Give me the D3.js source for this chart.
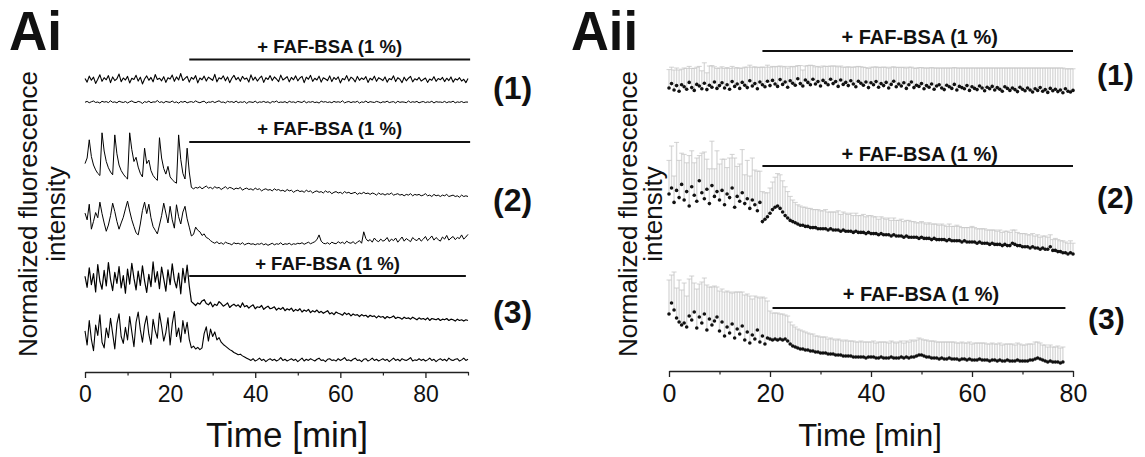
<!DOCTYPE html>
<html>
<head>
<meta charset="utf-8">
<script src="https://cdn.jsdelivr.net/npm/d3@7"></script>
<style>
  html, body { margin: 0; padding: 0; background: #fff; }
  svg { display: block; font-family: "Liberation Sans", Arial, Helvetica, sans-serif; }
</style>
</head>
<body>
<svg id="fig" width="1145" height="457"></svg>
<script>
// ---------------- data ----------------
// Ai: single-cell traces, sampled every 0.5 min (0–90 min), intensity as % of trace range
const leftSampleMin = 0.5;
const leftTickMajor = [0, 20, 40, 60, 80];
const leftTickMinor = [10, 30, 50, 70, 90];
const leftTreatStart = [24.5, 24.5, 24.5];
const leftTreatEnd = [90.5, 90.5, 89.5];

const cell1a = [52,38,61,45,57,33,49,66,41,55,47,63,36,58,44,51,69,40,54,46,
60,35,53,48,64,42,57,31,50,62,45,56,39,67,48,53,43,59,37,55,
50,65,41,58,46,71,44,52,60,38,56,49,63,35,54,47,61,42,57,51,
45,68,39,55,50,62,43,58,36,53,64,47,56,41,60,49,54,38,66,45,
57,42,53,61,37,55,48,63,44,58,50,40,65,46,52,59,39,56,47,62,
43,54,60,36,57,49,64,41,53,46,61,38,55,50,44,62,40,56,48,58,
35,52,47,63,42,57,51,39,60,45,54,48,59,37,53,46,61,41,55,50,
44,58,38,52,47,62,40,55,49,36,57,43,53,60,39,51,46,56,42,48,
54,37,50,45,59,41,52,47,56,40,53,44,58,38,51,46,55,42,49,36,52];

const cell1b = [48,55,44,52,58,46,50,41,56,49,53,45,60,47,51,43,57,50,46,54,
42,52,59,48,45,55,50,38,53,47,57,44,51,49,62,46,52,43,55,50,
47,58,45,51,40,54,48,56,43,50,53,46,59,49,44,52,57,41,50,48,
55,45,53,60,47,50,42,56,49,53,45,58,44,51,47,54,39,52,50,46,
57,43,51,48,55,46,52,40,54,49,58,45,50,47,53,42,56,48,51,44,
55,50,46,59,43,52,48,54,45,50,41,57,49,53,46,51,44,55,48,52,
47,60,43,50,54,45,52,48,56,41,51,47,58,44,53,49,46,55,50,43,
52,48,57,45,50,53,42,56,47,51,49,44,58,46,52,48,55,43,50,54,
45,51,47,56,42,53,49,50,46,55,44,52,48,57,43,51,47,54,45,50,49];

const cell2a = [52,60,86,62,50,43,38,35,96,70,55,46,40,36,93,66,50,42,37,33,
30,96,72,55,61,47,38,33,74,52,57,42,35,31,28,89,60,45,37,48,
33,29,26,24,93,58,38,30,74,40,18,
16,18,17,19,16,18,20,17,18,16,19,17,18,15,17,19,16,18,17,15,
17,16,18,14,16,17,15,16,14,17,15,16,13,15,16,14,15,13,16,14,
15,13,14,12,15,13,14,11,13,14,12,13,11,14,12,13,10,12,13,11,
12,10,13,11,12,9,11,12,10,11,9,12,10,11,9,10,11,8,10,9,
11,9,10,8,10,9,7,10,8,9,7,9,8,10,7,8,9,7,8,6,
8,7,9,6,8,7,8,6,7,9,6,7,5,8,6,7,5,7,6,8,
5,6,7,5,6,4,7,5,6,5];

const cell2b = [71,58,88,40,55,72,62,92,70,52,36,48,66,90,74,55,40,52,63,79,
94,75,58,45,33,29,50,76,92,70,88,62,45,38,31,48,66,90,71,52,
84,58,42,87,64,50,73,84,60,44,27,30,44,38,35,28,31,24,22,18,15,
13,16,12,14,11,15,13,12,10,14,12,13,11,14,10,12,13,11,12,10,
12,11,13,10,12,9,11,13,10,12,11,14,10,12,11,13,10,12,11,13,
12,14,11,13,15,12,14,16,20,29,17,13,12,14,11,15,13,12,16,13,
15,12,17,14,13,16,12,15,18,13,35,22,17,20,15,23,18,16,21,17,
19,24,16,21,18,23,15,20,25,17,22,19,16,24,20,18,23,17,21,26,
18,22,27,19,24,20,17,25,21,28,19,23,26,20,24,22,29,21,25,30];

const cell3a = [75,58,88,62,79,51,93,67,55,84,60,96,70,53,81,64,90,57,76,49,
86,63,95,72,54,83,61,91,68,50,78,59,97,66,82,56,89,71,52,85,
62,94,69,57,80,48,87,65,92,60,36,
33,30,34,32,37,39,33,31,35,28,32,30,36,33,29,31,34,27,30,32,
29,31,27,34,28,30,26,29,31,25,28,27,30,24,27,29,25,26,28,23,
26,24,27,22,25,23,26,21,24,22,25,20,23,21,24,19,22,20,23,19,
21,18,20,22,17,19,16,20,18,17,15,19,16,18,14,17,15,16,13,16,
14,15,12,15,13,14,11,14,12,13,10,13,11,12,14,10,12,11,9,12,
10,11,9,12,10,8,11,9,10,8,11,7,10,9,8,10,7,9,8,10,
7,9,8,6,9,7,8,6,8,7];

const cell3b = [60,35,78,45,25,70,52,88,40,30,65,48,82,55,28,72,90,50,38,66,
44,85,58,32,75,93,62,40,70,86,54,36,80,60,47,91,68,42,57,83,
35,72,94,50,65,40,78,55,75,45,
30,33,28,31,27,30,55,67,42,63,50,58,44,48,40,36,33,30,27,25,
22,20,18,19,16,14,12,
10,8,11,7,9,12,8,10,6,9,11,8,10,7,9,13,8,10,7,9,
11,8,10,6,9,12,7,10,8,11,9,7,10,12,8,9,6,10,11,8,
9,7,11,8,10,13,8,9,7,10,12,8,9,6,10,11,7,9,12,8,
10,7,9,11,8,10,6,9,12,8,10,7,11,9,8,10,13,7,9,8,
11,8,10,7,9,12,8,10,6,9,11,8,10,7,12,9,8,10,11,7,
9,12,8,10];

// Aii: mean of all cells (dots) and upper SEM (grey bars), sampled every 0.5 min
const rightSampleMin = 0.5;
const rightTickMajor = [0, 20, 40, 60, 80];
const rightTickMinor = [10, 30, 50, 70];
const rightTreatStart = [18.5, 18.5, 20.5];
const rightTreatEnd = [80, 80, 78.5];

const mean1 = [30,41,25,36,22,38,33,27,44,31,24,39,35,28,42,26,37,32,45,29,
36,43,30,38,27,46,34,40,29,44,37,31,48,35,41,28,45,38,33,47,
36,49,40,34,51,39,45,32,48,42,37,53,41,35,50,44,38,52,40,46,
35,49,43,38,52,41,46,34,50,39,44,36,48,40,33,47,42,37,45,31,
43,38,46,32,41,36,44,30,39,47,33,40,35,43,29,38,45,31,37,34,
41,28,36,32,40,27,35,38,30,26,37,33,29,39,25,34,31,28,36,24,
33,29,26,35,30,23,32,28,34,25,31,27,22,33,29,24,30,26,21,32,
27,23,30,25,20,28,24,31,22,26,19,29,23,27,21,25,18,28,22,20,24];

const sem1 = [46,41,50,44,53,39,47,52,40,48,55,43,49,45,51,42,48,54,38,50,
44,40,49,43,52,38,46,41,50,36,45,51,39,47,42,53,37,44,49,40,
46,35,43,50,34,44,39,48,36,41,47,33,45,40,35,42,49,34,43,38,
47,36,41,46,33,44,39,49,35,43,38,47,34,42,50,37,41,45,36,48,
39,44,37,49,41,46,38,50,43,36,48,42,46,39,51,44,37,49,42,47,
40,52,44,48,41,53,45,42,50,54,43,47,51,42,55,46,49,52,44,56,
47,51,54,45,50,57,48,52,46,55,49,53,58,47,51,56,50,54,59,48,
53,57,50,55,60,52,56,49,58,54,61,51,57,53,59,55,62,50,56,58,54];

const mean2 = [55,60,48,58,52,63,50,57,45,61,54,49,66,56,51,59,47,62,53,57,
50,58,46,55,52,60,44,53,49,56,47,51,43,50,46,41,48,
32,34,36,39,42,44,45,43,40,37,35,33,32,31,
30,29,29,28,28,27,27,27,26,26,
26,26,25,26,25,25,25,24,25,24,24,24,23,24,23,23,23,22,23,22,
22,22,21,22,21,21,21,20,21,20,20,20,19,20,19,19,19,19,18,19,
18,18,18,17,18,17,17,17,17,16,17,16,16,16,16,15,16,15,15,15,
15,14,15,14,14,14,13,14,13,13,13,12,13,12,12,14,13,12,12,11,
11,11,10,11,10,10,9,10,9,9,11,8,8,7,7,6,6,5,6,5];

const sem2 = [28,35,22,40,31,26,38,24,42,30,27,36,21,33,39,25,29,37,23,34,
30,26,38,22,33,28,41,25,31,36,24,32,27,35,29,33,26,
25,22,20,21,23,25,27,28,26,24,22,20,18,17,
16,16,15,16,15,16,15,15,16,15,
15,16,15,14,15,15,16,14,15,15,14,15,14,15,14,14,15,14,14,15,
14,14,13,14,14,13,14,13,14,13,13,14,13,13,14,13,13,12,13,13,
13,12,13,13,12,13,12,13,12,12,13,12,12,13,12,12,11,12,12,13,
12,12,11,12,12,11,12,11,12,11,12,11,11,12,11,11,12,11,10,11,
11,10,11,11,10,11,10,10,11,10,10,9,10,10,9,10,9,9,10,9];

const mean3 = [66,77,70,62,58,55,57,53,64,60,68,52,63,57,66,50,61,55,59,63,
49,58,44,53,47,56,42,51,46,54,40,48,37,45,41,50,38,44,36,42,
41,40,41,40,41,40,41,39,36,34,33,
32,31,31,30,30,29,29,28,28,27,
27,27,26,26,26,25,25,25,24,24,24,24,23,23,23,23,23,22,23,23,
23,22,22,23,22,22,22,23,22,22,22,23,22,23,22,23,23,24,25,25,
24,23,23,22,22,22,21,22,21,21,22,21,21,21,20,21,21,20,21,20,
20,20,21,20,20,20,19,20,20,19,20,19,19,20,19,19,19,20,19,19,
19,19,20,20,21,22,21,20,19,18,19,18,18,18,17,18];

const sem3 = [34,28,38,30,42,35,40,31,37,44,29,39,33,41,36,45,32,38,35,30,
40,33,44,36,41,31,46,37,42,34,45,38,47,36,43,33,44,39,46,37,
28,27,26,27,25,26,24,25,22,21,20,
19,19,18,18,17,17,17,16,16,16,
16,16,15,16,15,15,16,15,15,16,15,15,16,15,15,16,15,16,15,15,
16,15,16,15,16,16,15,16,16,15,16,16,15,16,16,17,16,16,17,16,
16,17,16,17,17,16,17,16,17,17,16,17,17,16,17,17,16,17,17,16,
17,17,16,17,17,16,17,17,16,17,17,16,17,16,17,17,16,17,17,16,
16,17,16,16,17,16,16,15,16,15,16,15,15,16,15,15];

const treatLabel = "+ FAF-BSA (1 %)";
const rowLabels = ["(1)", "(2)", "(3)"];

// ---------------- drawing ----------------
const svg = d3.select("#fig");
const ink = "#111";

const xL = d3.scaleLinear().domain([0, 90]).range([85, 468]);
const xR = d3.scaleLinear().domain([0, 80]).range([669, 1073]);

// vertical band for each trace (value 0 -> bottom, 100 -> top)
const leftTraces = [
  { v: cell1a, bottom: 92, top: 66, w: 1.1 },
  { v: cell1b, bottom: 108, top: 96, w: 1.0 },
  { v: cell2a, bottom: 200, top: 130, w: 1.0 },
  { v: cell2b, bottom: 250, top: 198, w: 1.0 },
  { v: cell3a, bottom: 325, top: 260, w: 1.2 },
  { v: cell3b, bottom: 365, top: 308, w: 1.1 }
];

const gL = svg.append("g");
leftTraces.forEach(tr => {
  const y = d3.scaleLinear().domain([0, 100]).range([tr.bottom, tr.top]);
  const line = d3.line().x((d, i) => xL(i * leftSampleMin)).y(d => y(d));
  gL.append("path").datum(tr.v)
    .attr("d", line).attr("fill", "none")
    .attr("stroke", "#000").attr("stroke-width", tr.w).attr("stroke-linejoin", "round");
});

// treatment bars, left
const leftBarY = [59.5, 142, 276];
const leftBarTextY = [53, 135, 270];
leftBarY.forEach((yy, k) => {
  const x0 = xL(leftTreatStart[k]), x1 = xL(leftTreatEnd[k]);
  gL.append("line").attr("x1", x0).attr("x2", x1).attr("y1", yy).attr("y2", yy)
    .attr("stroke", ink).attr("stroke-width", 2);
  gL.append("text").attr("x", (x0 + x1) / 2).attr("y", leftBarTextY[k])
    .attr("text-anchor", "middle").attr("font-size", 18.5).attr("font-weight", 700)
    .attr("fill", ink).text(treatLabel);
});

// row labels, left
[99, 211, 323].forEach((yy, k) => {
  gL.append("text").attr("x", 493).attr("y", yy).attr("font-size", 32)
    .attr("font-weight", 700).attr("fill", ink).text(rowLabels[k]);
});

// Right panel series bands
const rightSeries = [
  { m: mean1, e: sem1, bottom: 100, top: 60 },
  { m: mean2, e: sem2, bottom: 260, top: 140 },
  { m: mean3, e: sem3, bottom: 380, top: 280 }
];
const gR = svg.append("g");
rightSeries.forEach(s => {
  const y = d3.scaleLinear().domain([0, 100]).range([s.bottom, s.top]);
  const pts = s.m.map((v, i) => ({ t: i * rightSampleMin, v, e: s.e[i] }));
  const eb = gR.append("g");
  eb.selectAll("line.bar").data(pts).join("line").attr("class", "bar")
    .attr("x1", d => xR(d.t)).attr("x2", d => xR(d.t))
    .attr("y1", d => y(d.v)).attr("y2", d => y(d.v + d.e))
    .attr("stroke", "#dadada").attr("stroke-width", 1.4);
  eb.selectAll("line.cap").data(pts).join("line").attr("class", "cap")
    .attr("x1", d => xR(d.t) - 2.5).attr("x2", d => xR(d.t) + 2.5)
    .attr("y1", d => y(d.v + d.e)).attr("y2", d => y(d.v + d.e))
    .attr("stroke", "#c6c6c6").attr("stroke-width", 0.8);
  gR.append("g").selectAll("circle").data(pts).join("circle")
    .attr("cx", d => xR(d.t)).attr("cy", d => y(d.v)).attr("r", 1.8)
    .attr("fill", ink);
});

const rightBarY = [51, 166, 308];
const rightBarTextY = [44, 161, 301];
rightBarY.forEach((yy, k) => {
  const x0 = xR(rightTreatStart[k]), x1 = xR(rightTreatEnd[k]);
  gR.append("line").attr("x1", x0).attr("x2", x1).attr("y1", yy).attr("y2", yy)
    .attr("stroke", ink).attr("stroke-width", 2);
  gR.append("text").attr("x", (x0 + x1) / 2 + 2).attr("y", rightBarTextY[k])
    .attr("text-anchor", "middle").attr("font-size", 20).attr("font-weight", 700)
    .attr("fill", ink).text(treatLabel);
});
[[1097, 85], [1097, 208], [1088, 329]].forEach((p, k) => {
  gR.append("text").attr("x", p[0]).attr("y", p[1]).attr("font-size", 30)
    .attr("font-weight", 700).attr("fill", ink).text(rowLabels[k]);
});

// ---------------- axes ----------------
function timeAxis(x, y0, majors, minors, fontSize, labelBaseline, title, titleX, titleY, titleSize) {
  const g = svg.append("g").attr("transform", `translate(0,${y0})`);
  g.call(d3.axisBottom(x).tickValues(majors).tickSize(6).tickSizeOuter(0).tickFormat(d3.format("d")));
  g.select(".domain").attr("stroke", "#222").attr("stroke-width", 1.3);
  g.selectAll(".tick line").attr("stroke", "#222").attr("stroke-width", 1.3);
  g.selectAll(".tick text").attr("y", labelBaseline).attr("dy", null)
    .attr("font-size", fontSize).attr("font-family", null).attr("fill", ink);
  const gm = svg.append("g").attr("transform", `translate(0,${y0})`);
  gm.call(d3.axisBottom(x).tickValues(minors).tickSize(3.5).tickSizeOuter(0).tickFormat(""));
  gm.select(".domain").remove();
  gm.selectAll(".tick line").attr("stroke", "#222").attr("stroke-width", 1.2);
  svg.append("text").attr("x", titleX).attr("y", titleY).attr("text-anchor", "middle")
    .attr("font-size", titleSize).attr("fill", ink).text(title);
}
timeAxis(xL, 372, leftTickMajor, leftTickMinor, 23, 30, "Time [min]", 287, 447, 35);
timeAxis(xR, 371, rightTickMajor, rightTickMinor, 25, 31, "Time [min]", 870, 446, 31);

// y titles
function yTitle(xBase, yc, size, gap) {
  const g = svg.append("g").attr("transform", `translate(${xBase},${yc}) rotate(-90)`);
  g.append("text").attr("x", 0).attr("y", 0).attr("text-anchor", "middle")
    .attr("font-size", size).attr("fill", ink).text("Normalized fluorescence");
  g.append("text").attr("x", 0).attr("y", gap).attr("text-anchor", "middle")
    .attr("font-size", size).attr("fill", ink).text("intensity");
}
yTitle(37, 214, 26, 28);
yTitle(637, 214, 26, 25);

// panel letters
svg.append("text").attr("x", 9).attr("y", 50).attr("font-size", 56).attr("font-weight", 700)
  .attr("textLength", 53).attr("lengthAdjust", "spacingAndGlyphs").attr("fill", ink).text("Ai");
svg.append("text").attr("x", 571).attr("y", 50).attr("font-size", 56).attr("font-weight", 700)
  .attr("textLength", 67).attr("lengthAdjust", "spacingAndGlyphs").attr("fill", ink).text("Aii");
</script>
</body>
</html>
